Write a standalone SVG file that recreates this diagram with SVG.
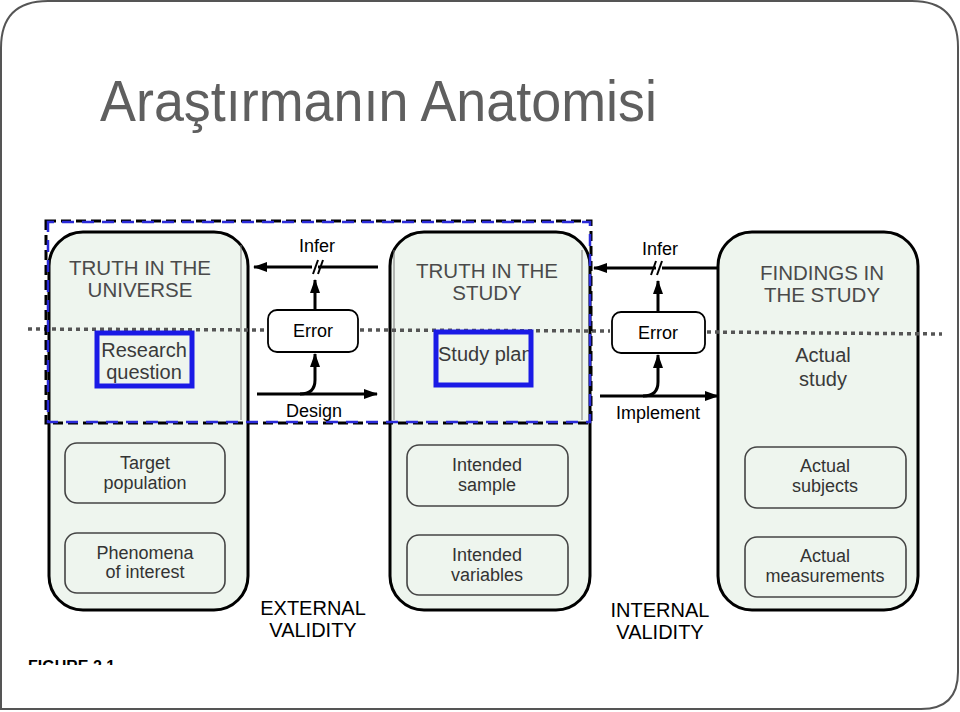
<svg xmlns="http://www.w3.org/2000/svg" width="960" height="712" viewBox="0 0 960 712">
<defs>
<marker id="ah" viewBox="0 0 14 10" refX="13" refY="5" markerWidth="14" markerHeight="10" markerUnits="userSpaceOnUse" orient="auto">
<path d="M0,0 L14,5 L0,10 Z" fill="#000"/>
</marker>
<clipPath id="capclip"><rect x="0" y="655" width="960" height="10"/></clipPath>
<style>
.big{fill:#eef5ee;stroke:#000;stroke-width:3}
.inner{fill:none;stroke:#777;stroke-width:1}
.sub{fill:#eef5ee;stroke:#444;stroke-width:1.6}
.err{fill:#fff;stroke:#000;stroke-width:1.8}
.ttl{font-family:"Liberation Sans",Arial,sans-serif;font-size:20.5px;fill:#4a4a4a;text-anchor:middle}
.lbl{font-family:"Liberation Sans",Arial,sans-serif;font-size:18px;fill:#333;text-anchor:middle}
.mid{font-family:"Liberation Sans",Arial,sans-serif;font-size:20px;fill:#3a3a3a;text-anchor:middle}
.blk{font-family:"Liberation Sans",Arial,sans-serif;font-size:18px;fill:#000;text-anchor:middle}
.val{font-family:"Liberation Sans",Arial,sans-serif;font-size:20px;fill:#000;text-anchor:middle}
.ln{fill:none;stroke:#000;stroke-width:3}
.dot{fill:none;stroke:#555;stroke-width:3.5;stroke-dasharray:4 4}
.blue{fill:none;stroke:#1a1ae6;stroke-width:5}
</style>
</defs>
<rect width="960" height="712" fill="#fff"/>
<path d="M1,709 L1,48 Q1,1 48,1 L912,1 Q958,1 958,47 L958,672 Q958,709 921,709 Z" fill="none" stroke="#555" stroke-width="2"/>
<text x="100" y="121" font-family="Liberation Sans, Arial, sans-serif" font-size="58" fill="#5f5f5f" textLength="557" lengthAdjust="spacingAndGlyphs">Araştırmanın Anatomisi</text>

<g id="box-universe">
<rect class="big" x="49" y="232" width="199" height="378" rx="34"/>
<line class="inner" x1="241" y1="245" x2="241" y2="420"/>
<text class="ttl" x="140" y="275">TRUTH IN THE</text>
<text class="ttl" x="140" y="297">UNIVERSE</text>
</g>
<g id="box-study">
<rect class="big" x="390" y="232" width="200" height="378" rx="34"/>
<line class="inner" x1="394" y1="250" x2="394" y2="420"/>
<line class="inner" x1="582" y1="250" x2="582" y2="420"/>
<text class="ttl" x="487" y="278">TRUTH IN THE</text>
<text class="ttl" x="487" y="300">STUDY</text>
</g>
<g id="box-findings">
<rect class="big" x="718" y="232" width="200" height="378" rx="34"/>
<text class="ttl" x="822" y="280">FINDINGS IN</text>
<text class="ttl" x="822" y="302">THE STUDY</text>
</g>

<g id="connectors">
<line class="dot" x1="28" y1="329" x2="266" y2="330"/>
<line class="dot" x1="360" y1="330" x2="610" y2="331"/>
<line class="dot" x1="707" y1="332" x2="942" y2="334"/>
<line class="ln" x1="378" y1="267" x2="318" y2="267"/>
<line class="ln" x1="312" y1="267" x2="254" y2="267" marker-end="url(#ah)"/>
<line x1="313" y1="274" x2="318" y2="260" stroke="#000" stroke-width="2"/>
<line x1="318" y1="274" x2="323" y2="260" stroke="#000" stroke-width="2"/>
<line class="ln" x1="315" y1="310" x2="315" y2="280" marker-end="url(#ah)"/>
<line class="ln" x1="257" y1="394" x2="377" y2="394" marker-end="url(#ah)"/>
<path class="ln" d="M300,394 Q315,394 315,380 L315,354" marker-end="url(#ah)"/>
<line class="ln" x1="718" y1="268" x2="662" y2="268"/>
<line class="ln" x1="656" y1="268" x2="594" y2="268" marker-end="url(#ah)"/>
<line x1="651" y1="275" x2="656" y2="261" stroke="#000" stroke-width="2"/>
<line x1="657" y1="275" x2="662" y2="261" stroke="#000" stroke-width="2"/>
<line class="ln" x1="658" y1="312" x2="658" y2="281" marker-end="url(#ah)"/>
<line class="ln" x1="600" y1="396" x2="718" y2="396" marker-end="url(#ah)"/>
<path class="ln" d="M643,396 Q658,396 658,382 L658,355" marker-end="url(#ah)"/>
</g>

<g id="frame">
<rect x="46" y="221" width="545" height="202" fill="none" stroke="#000" stroke-width="3" stroke-dasharray="10 5"/>
<rect x="48" y="222" width="542" height="200" fill="none" stroke="#2a2ad8" stroke-width="2.5" stroke-dasharray="12 8" stroke-dashoffset="6"/>
</g>

<g id="label-infer1"><text class="blk" x="317" y="252">Infer</text></g>
<g id="label-infer2"><text class="blk" x="660" y="255">Infer</text></g>
<g id="label-design"><text class="blk" x="314" y="417">Design</text></g>
<g id="label-implement"><text class="blk" x="658" y="419">Implement</text></g>

<g id="error1">
<rect class="err" x="268" y="310" width="90" height="42" rx="9"/>
<text class="blk" x="313" y="337">Error</text>
</g>
<g id="error2">
<rect class="err" x="612" y="312" width="93" height="41" rx="9"/>
<text class="blk" x="658" y="339">Error</text>
</g>

<g id="research-question">
<text class="mid" x="144" y="357">Research</text>
<text class="mid" x="144" y="379">question</text>
<rect class="blue" x="97" y="333" width="95" height="53"/>
</g>
<g id="study-plan">
<text class="mid" x="438" y="361" style="text-anchor:start">Study plan</text>
<rect class="blue" x="436" y="332" width="95" height="53"/>
</g>
<g id="actual-study">
<text class="mid" x="823" y="362">Actual</text>
<text class="mid" x="823" y="386">study</text>
</g>

<g id="target-population">
<rect class="sub" x="65" y="443" width="160" height="60" rx="12"/>
<text class="lbl" x="145" y="469">Target</text>
<text class="lbl" x="145" y="489">population</text>
</g>
<g id="phenomena">
<rect class="sub" x="65" y="533" width="160" height="60" rx="12"/>
<text class="lbl" x="145" y="559">Phenomena</text>
<text class="lbl" x="145" y="578">of interest</text>
</g>
<g id="intended-sample">
<rect class="sub" x="407" y="445" width="161" height="61" rx="12"/>
<text class="lbl" x="487" y="471">Intended</text>
<text class="lbl" x="487" y="491">sample</text>
</g>
<g id="intended-variables">
<rect class="sub" x="407" y="535" width="161" height="60" rx="12"/>
<text class="lbl" x="487" y="561">Intended</text>
<text class="lbl" x="487" y="581">variables</text>
</g>
<g id="actual-subjects">
<rect class="sub" x="745" y="447" width="161" height="61" rx="12"/>
<text class="lbl" x="825" y="472">Actual</text>
<text class="lbl" x="825" y="492">subjects</text>
</g>
<g id="actual-measurements">
<rect class="sub" x="745" y="537" width="161" height="60" rx="12"/>
<text class="lbl" x="825" y="562">Actual</text>
<text class="lbl" x="825" y="582">measurements</text>
</g>

<g id="external-validity">
<text class="val" x="313" y="615">EXTERNAL</text>
<text class="val" x="313" y="637">VALIDITY</text>
</g>
<g id="internal-validity">
<text class="val" x="660" y="617">INTERNAL</text>
<text class="val" x="660" y="639">VALIDITY</text>
</g>

<g id="caption" clip-path="url(#capclip)">
<text x="28" y="672" font-family="Liberation Sans, Arial, sans-serif" font-size="16" font-weight="bold" fill="#000">FIGURE 2.1</text>
</g>
</svg>
